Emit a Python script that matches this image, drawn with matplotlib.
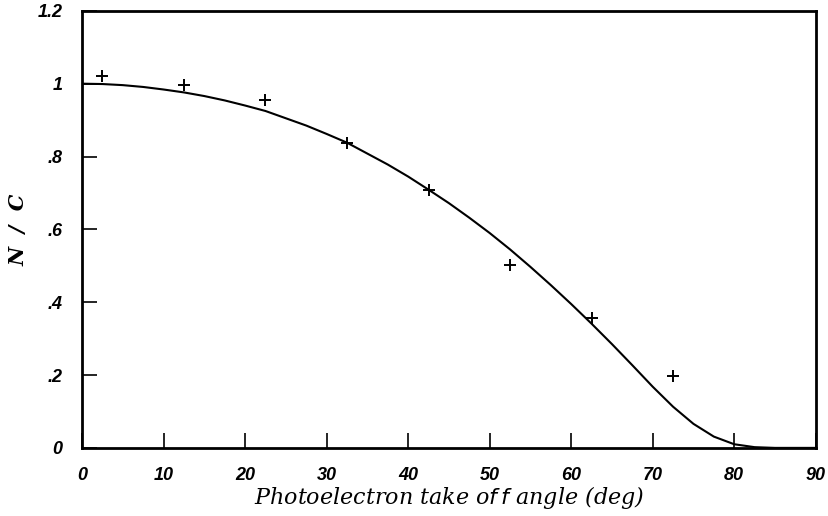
import numpy as np
import matplotlib
matplotlib.use("Agg")
import matplotlib.pyplot as plt
from matplotlib.font_manager import FontProperties

# measured points (+)
angle_pts = [2.5, 12.5, 22.5, 32.5, 42.5, 52.5, 62.5, 72.5]
ratio_pts = [1.02, 0.995, 0.956, 0.838, 0.708, 0.502, 0.358, 0.197]

# model curve
angle_fit = [0, 2.5, 5, 7.5, 10, 12.5, 15, 17.5, 20, 22.5, 25, 27.5, 30, 32.5,
             35, 37.5, 40, 42.5, 45, 47.5, 50, 52.5, 55, 57.5, 60, 62.5, 65,
             67.5, 70, 72.5, 75, 77.5, 80, 82.5, 85, 90]
ratio_fit = [1.0, 0.999, 0.996, 0.991, 0.984, 0.976, 0.966, 0.954, 0.940, 0.925,
             0.905, 0.885, 0.862, 0.838, 0.808, 0.778, 0.745, 0.709, 0.672, 0.632,
             0.590, 0.545, 0.497, 0.447, 0.395, 0.341, 0.285, 0.227, 0.168, 0.113,
             0.066, 0.031, 0.010, 0.002, 0.0, 0.0]

xticks = [0, 10, 20, 30, 40, 50, 60, 70, 80, 90]
yticks = [0, 0.2, 0.4, 0.6, 0.8, 1.0, 1.2]
ytick_labels = ["0", ".2", ".4", ".6", ".8", "1", "1.2"]

fig = plt.figure(figsize=(8.29, 5.16), dpi=100)
ax = fig.add_axes([0.099, 0.132, 0.885, 0.847])

ax.plot(angle_fit, ratio_fit, color="black", lw=1.5)
ax.plot(angle_pts, ratio_pts, ls="none", marker="+", ms=9, mew=1.4, color="black")

ax.set_xlim(0, 90)
ax.set_ylim(0, 1.2)
ax.set_xticks(xticks)
ax.set_yticks(yticks)
ax.set_yticklabels(ytick_labels)

tick_font = FontProperties(family="Liberation Sans", weight="bold", style="italic", size=13)
for lab in ax.get_xticklabels() + ax.get_yticklabels():
    lab.set_fontproperties(tick_font)

ax.tick_params(direction="in", length=11, width=1.2, top=False, right=False)
ax.tick_params(axis="x", pad=14)
ax.tick_params(axis="y", pad=14)
for s in ax.spines.values():
    s.set_linewidth(2)

ax.set_xlabel("Photoelectron take o$f\\,f$ angle (deg)", family="DejaVu Serif",
              style="italic", size=16, labelpad=0)
ylab = ax.set_ylabel("N  /  C", family="DejaVu Serif", style="italic", weight="bold",
                     size=15)
ylab.set_va("center")
ax.yaxis.set_label_coords(-0.087, 0.5)

fig.savefig("out.png", dpi=100)
